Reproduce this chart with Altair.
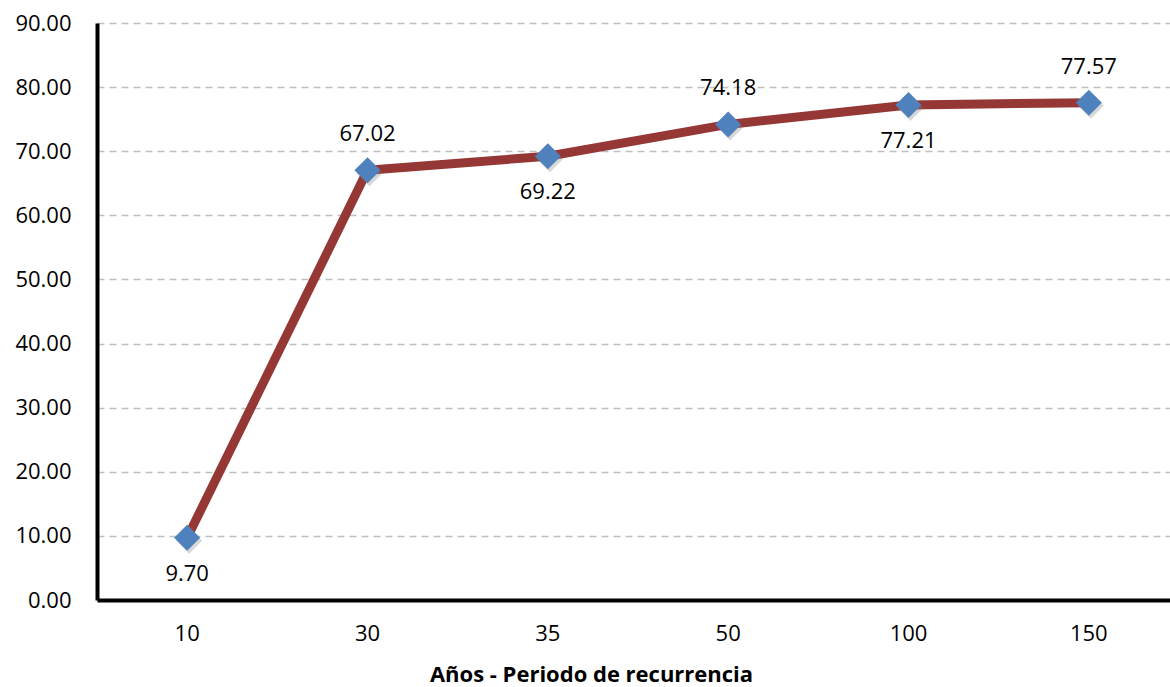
import altair as alt
import pandas as pd

# Recurrence periods (years) and computed values
periodos = ["10", "30", "35", "50", "100", "150"]
valores = [9.70, 67.02, 69.22, 74.18, 77.21, 77.57]
posicion = ["below", "above", "below", "above", "below", "above"]

df = pd.DataFrame({"periodo": periodos, "valor": valores, "pos": posicion})

FONT = "Open Sans"
FS = 22

x_enc = alt.X(
    "periodo:N",
    sort=periodos,
    scale=alt.Scale(type="band", range=[0, 1082], paddingInner=0, paddingOuter=0),
    axis=alt.Axis(
        title="Años - Periodo de recurrencia",
        titleFont=FONT,
        titleFontSize=FS,
        titleFontWeight="bold",
        titleColor="#000000",
        titlePadding=20,
        titleX=494,
        labelFont=FONT,
        labelFontSize=FS,
        labelColor="#000000",
        labelPadding=23,
        labelAngle=0,
        ticks=False,
        domainColor="#000000",
        domainWidth=4,
        grid=False,
    ),
)

y_enc = alt.Y(
    "valor:Q",
    scale=alt.Scale(domain=[0, 90], nice=False),
    axis=alt.Axis(
        title=None,
        values=list(range(0, 91, 10)),
        format=".2f",
        labelFont=FONT,
        labelFontSize=FS,
        labelColor="#000000",
        labelPadding=26,
        ticks=False,
        domainColor="#000000",
        domainWidth=4,
        grid=True,
        gridColor="#BFBFBF",
        gridDash=[7, 5],
        gridWidth=1.5,
    ),
)

base = alt.Chart(df).encode(x=x_enc, y=y_enc)

line = base.mark_line(color="#953735", strokeWidth=9, strokeJoin="round")

# soft drop shadow beneath each diamond marker
shadow = base.mark_point(
    shape="diamond", size=680, filled=True, color="#7f7f7f", opacity=0.3,
    xOffset=2, yOffset=3,
)

points = base.mark_point(
    shape="diamond", size=680, filled=True, color="#4F81BD", opacity=1
)

text_style = dict(font=FONT, fontSize=FS, color="#000000", align="center", baseline="middle")

labels_above = base.transform_filter(alt.datum.pos == "above").mark_text(
    dy=-36, **text_style
).encode(text=alt.Text("valor:Q", format=".2f"))

labels_below = base.transform_filter(alt.datum.pos == "below").mark_text(
    dy=36, **text_style
).encode(text=alt.Text("valor:Q", format=".2f"))

chart = (
    alt.layer(line, shadow, points, labels_above, labels_below)
    .properties(
        width=1073,
        height=577,
        autosize=alt.AutoSizeParams(type="none"),
        padding={"left": 97, "top": 23, "right": 0, "bottom": 87},
        background="#ffffff",
    )
    .configure_view(stroke=None)
)

chart.save("out.html", embed_options={"renderer": "svg", "actions": False})
